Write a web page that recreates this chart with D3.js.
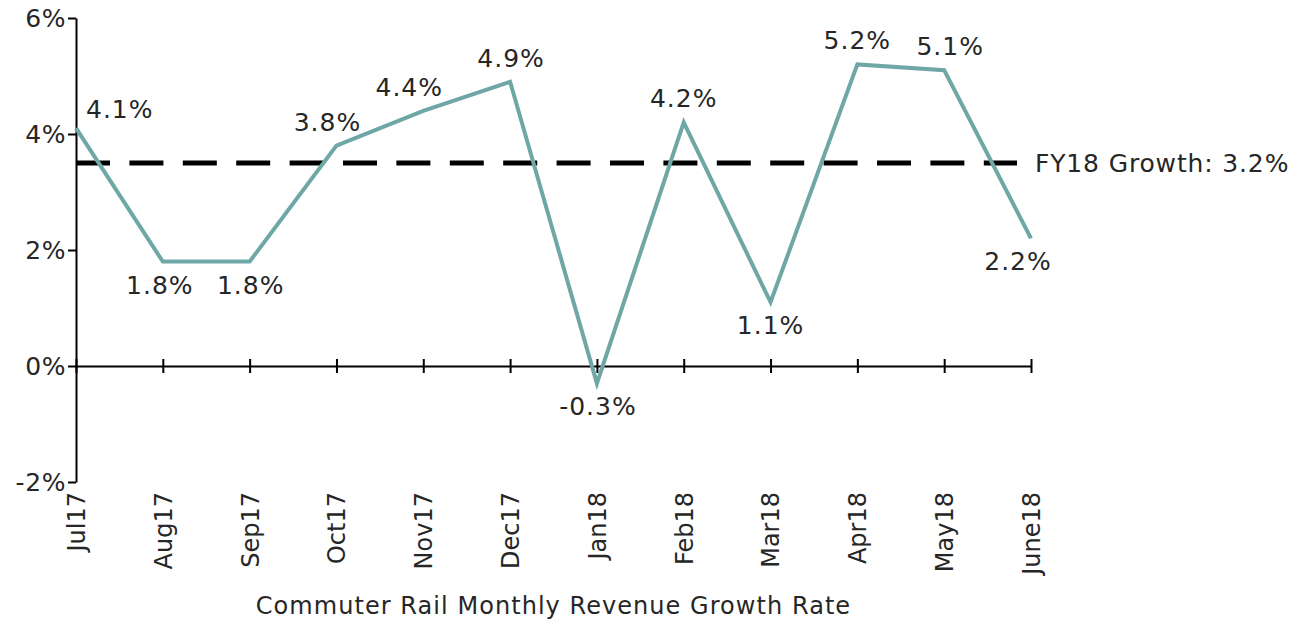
<!DOCTYPE html>
<html>
<head>
<meta charset="utf-8">
<script src="https://cdn.jsdelivr.net/npm/d3@7"></script>
<style>
  body { margin: 0; background: #fff; }
  svg text { font-family: Verdana, "DejaVu Sans", sans-serif; fill: #262626; }
  .axis path, .axis line { stroke: #000; stroke-width: 2; }
</style>
</head>
<body>
<div id="main"></div>
<script>
var cfg = {
    width: 1298,
    height: 622,
    left: 76,
    right: 1031,
    top: 18,
    bottom: 482,
};

// data
var months = ["Jul17", "Aug17", "Sep17", "Oct17", "Nov17", "Dec17",
    "Jan18", "Feb18", "Mar18", "Apr18", "May18", "June18"];
var growth = [4.1, 1.8, 1.8, 3.8, 4.4, 4.9, -0.3, 4.2, 1.1, 5.2, 5.1, 2.2];
var yTicks = [-2, 0, 2, 4, 6];
var refLineValue = 3.5; // where the dashed line sits on the axis
var refLabel = "FY18 Growth: 3.2%";
var xTitle = "Commuter Rail Monthly Revenue Growth Rate";

// label placement (layout only)
var labelSide = ["right", "below", "below", "above", "above", "above",
    "below", "above", "below", "above", "above", "below"];
var labelShift = [10, -3, 1, -9, -14, 1, 1, 0, 0, 0, 6, -13];

var x = d3.scalePoint().domain(months).range([cfg.left, cfg.right]);
var y = d3.scaleLinear().domain([-2, 6]).range([cfg.bottom, cfg.top]);

var svg = d3.select("#main").append("svg")
    .attr("width", cfg.width)
    .attr("height", cfg.height);

// y axis
var yAxis = svg.append("g")
    .attr("class", "axis")
    .attr("transform", "translate(" + cfg.left + ",0)")
    .call(d3.axisLeft(y).tickValues(yTicks).tickSize(8).tickSizeOuter(0)
        .tickFormat(function (d) { return d + "%"; }));
yAxis.selectAll("text")
    .attr("x", -10)
    .style("font-size", "25px")
    .style("letter-spacing", "0.6px");

// x axis sits on zero, ticks cross the line
var xAxis = svg.append("g")
    .attr("class", "axis")
    .attr("transform", "translate(0," + y(0) + ")")
    .call(d3.axisBottom(x).tickSize(7).tickSizeOuter(0));
xAxis.selectAll(".tick line").attr("y1", -7);
xAxis.selectAll("text")
    .attr("transform", "rotate(-90)")
    .attr("x", -(492 - y(0)))
    .attr("y", 0)
    .attr("dy", "0.35em")
    .style("text-anchor", "end")
    .style("font-size", "24px");

svg.append("text")
    .attr("x", (255 + 852) / 2)
    .attr("y", 614)
    .attr("text-anchor", "middle")
    .style("font-size", "24px")
    .style("letter-spacing", "1.05px")
    .text(xTitle);

// dashed growth line
svg.append("line")
    .attr("x1", cfg.left)
    .attr("x2", cfg.right - 14)
    .attr("y1", y(refLineValue))
    .attr("y2", y(refLineValue))
    .style("stroke", "#000")
    .style("stroke-width", 5)
    .style("stroke-dasharray", "34,19.4");

svg.append("text")
    .attr("x", 1035)
    .attr("y", y(refLineValue))
    .attr("dy", "0.36em")
    .style("font-size", "25px")
    .style("letter-spacing", "0.85px")
    .text(refLabel);

// series
var line = d3.line()
    .x(function (d, i) { return x(months[i]); })
    .y(function (d) { return y(d); });

svg.append("path")
    .datum(growth)
    .attr("d", line)
    .style("fill", "none")
    .style("stroke", "#6fa7a7")
    .style("stroke-width", 4)
    .style("stroke-linejoin", "miter");

svg.selectAll(".lbl")
    .data(growth)
    .enter()
    .append("text")
    .attr("class", "lbl")
    .attr("x", function (d, i) { return x(months[i]) + labelShift[i]; })
    .attr("y", function (d, i) {
        var side = labelSide[i];
        if (side == "below") return y(d) + 32;
        if (side == "right") return y(d) - 10;
        return y(d) - 15;
    })
    .attr("text-anchor", function (d, i) {
        return labelSide[i] == "right" ? "start" : "middle";
    })
    .style("font-size", "25px")
    .style("letter-spacing", "1px")
    .text(function (d) { return d.toFixed(1) + "%"; });
</script>
</body>
</html>
